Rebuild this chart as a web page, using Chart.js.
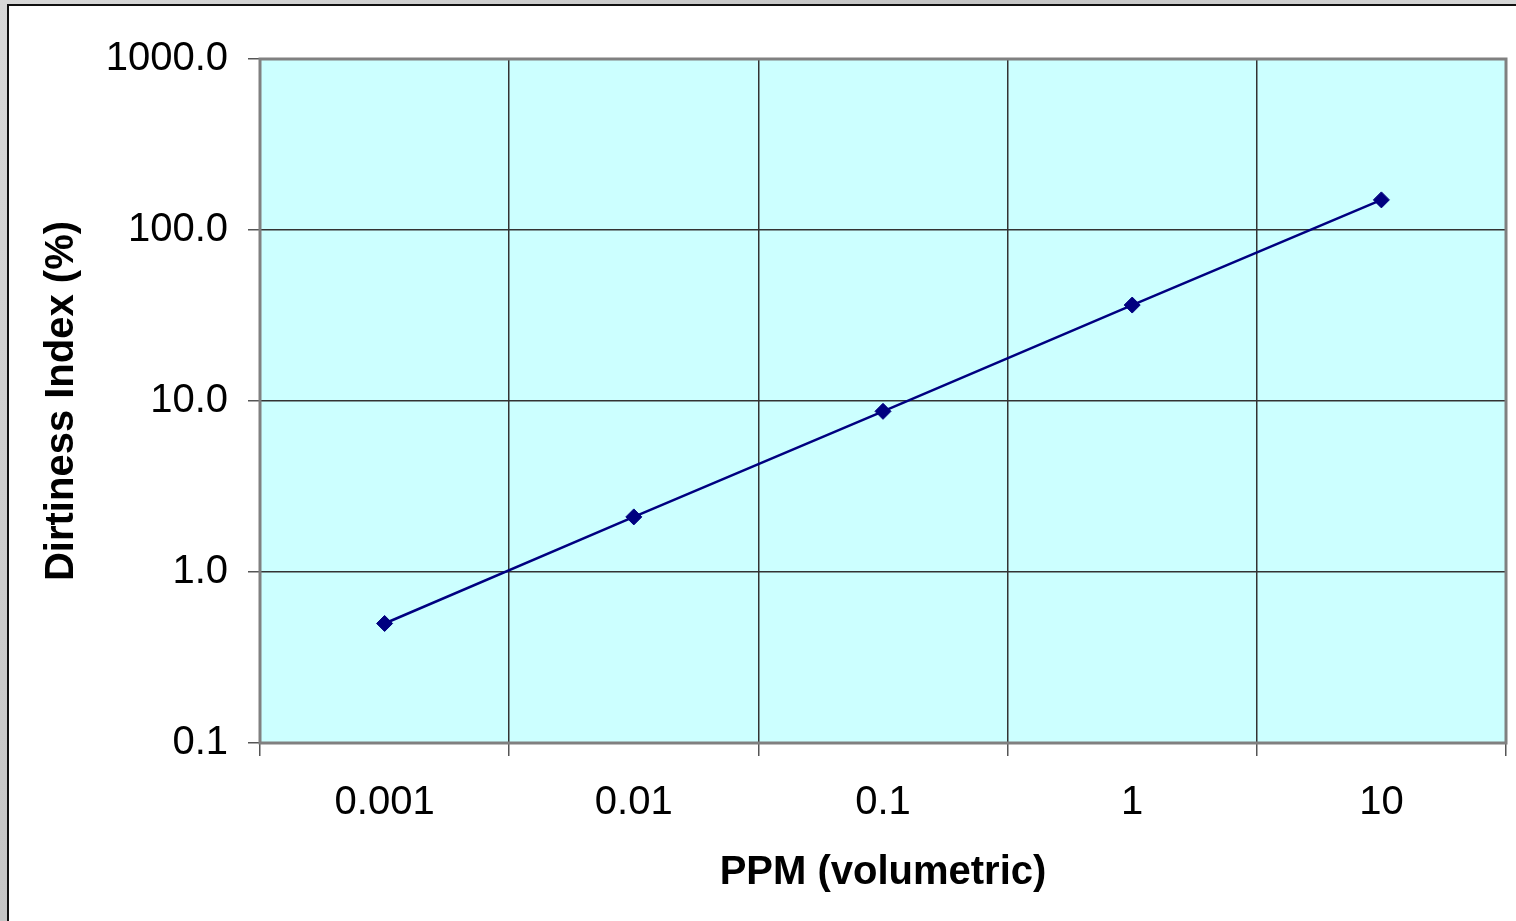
<!DOCTYPE html>
<html lang="en">
<head>
    <meta charset="UTF-8">
    <title>Dirtiness Index vs PPM</title>
    <script src="https://cdn.jsdelivr.net/npm/chart.js"></script>
    <style>
        * {
            box-sizing: border-box;
            margin: 0;
            padding: 0;
        }

        body {
            width: 1516px;
            height: 921px;
            overflow: hidden;
            background: linear-gradient(135deg, #d8d8d8, #c4c4c4 40%, #dcdcdc 70%, #c8c8c8);
            position: relative;
        }

        .panel {
            position: absolute;
            left: 7px;
            top: 4px;
            width: 1509px;
            height: 917px;
            background: #ffffff;
            border-left: 2px solid #111;
            border-top: 2px solid #111;
        }

        #chartWrap {
            position: absolute;
            left: 0;
            top: 0;
            width: 1516px;
            height: 921px;
        }
    </style>
</head>
<body>
    <div class="panel"></div>
    <div id="chartWrap">
        <canvas id="dirtChart"></canvas>
    </div>

    <script>
        // Data
        const ppmLabels = ['0.001', '0.01', '0.1', '1', '10'];
        const dirtiness = [0.5, 2.1, 8.7, 36.4, 150];
        const yTickValues = [0.1, 1, 10, 100, 1000];

        const FONT = "'Liberation Sans', Arial, sans-serif";

        // Excel-like plot area: cyan fill, grey frame
        const plotArea = {
            id: 'plotArea',
            beforeDraw(chart) {
                const { ctx, chartArea: a } = chart;
                ctx.save();
                ctx.fillStyle = '#ccffff';
                ctx.fillRect(a.left, a.top, a.right - a.left, a.bottom - a.top);
                ctx.restore();
            },
            afterDatasetsDraw(chart) {
                const { ctx, chartArea: a } = chart;
                ctx.save();
                ctx.strokeStyle = '#808080';
                ctx.lineWidth = 3;
                ctx.strokeRect(a.left, a.top, a.right - a.left, a.bottom - a.top);
                ctx.restore();
            }
        };

        const ctx = document.getElementById('dirtChart').getContext('2d');
        new Chart(ctx, {
            type: 'line',
            data: {
                labels: ppmLabels,
                datasets: [{
                    data: dirtiness,
                    borderColor: '#000080',
                    backgroundColor: '#000080',
                    borderWidth: 2.5,
                    pointStyle: 'rectRot',
                    pointRadius: 8,
                    pointBorderWidth: 1,
                    tension: 0
                }]
            },
            options: {
                responsive: true,
                maintainAspectRatio: false,
                animation: false,
                layout: {
                    padding: { top: 59, right: 10, bottom: 0, left: 0 }
                },
                plugins: {
                    legend: { display: false },
                    tooltip: { enabled: false }
                },
                scales: {
                    x: {
                        type: 'category',
                        offset: true,
                        afterFit(scale) { scale.height = 178; },
                        grid: {
                            offset: true,
                            color: '#333333',
                            lineWidth: 1.5,
                            tickLength: 13,
                            tickColor: '#555555'
                        },
                        border: { display: false },
                        ticks: {
                            color: '#000',
                            padding: 23,
                            maxRotation: 0,
                            font: { family: FONT, size: 40 }
                        },
                        title: {
                            display: true,
                            text: 'PPM (volumetric)',
                            color: '#000',
                            padding: { top: 0, bottom: 24 },
                            font: { family: FONT, size: 40, weight: 'bold' }
                        }
                    },
                    y: {
                        type: 'logarithmic',
                        min: 0.1,
                        max: 1000,
                        afterFit(scale) { scale.width = 260; },
                        afterBuildTicks(scale) {
                            scale.ticks = yTickValues.map(v => ({ value: v }));
                        },
                        grid: {
                            color: '#333333',
                            lineWidth: 1.5,
                            tickLength: 12,
                            tickColor: '#555555'
                        },
                        border: { display: false },
                        ticks: {
                            color: '#000',
                            padding: 20,
                            font: { family: FONT, size: 40 },
                            callback: v => Number(v).toFixed(1)
                        },
                        title: {
                            display: true,
                            text: 'Dirtiness Index (%)',
                            color: '#000',
                            padding: { top: 38, bottom: 0 },
                            font: { family: FONT, size: 40, weight: 'bold' }
                        }
                    }
                }
            },
            plugins: [plotArea]
        });
    </script>
</body>
</html>
